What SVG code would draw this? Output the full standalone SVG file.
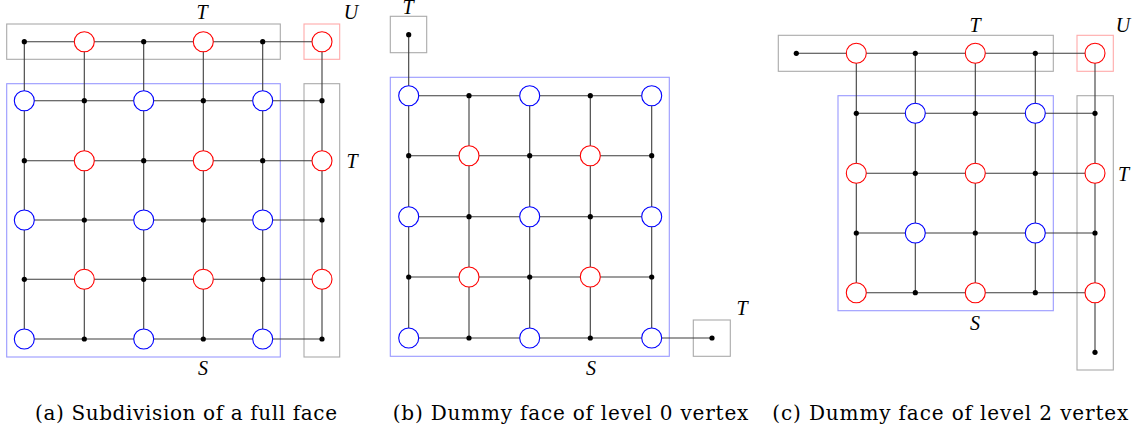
<svg xmlns="http://www.w3.org/2000/svg" width="1139" height="432" viewBox="0 0 1139 432">
<style>
.e{stroke:#3c3c3c;stroke-width:1.1;fill:none}
.r{fill:#fff;stroke:#f00;stroke-width:1.1}
.b{fill:#fff;stroke:#00f;stroke-width:1.1}
.d{fill:#000}
.gb{fill:none;stroke:#aaa;stroke-width:1.1}
.sb{fill:none;stroke:#99f;stroke-width:1.1}
.ub{fill:none;stroke:#faa;stroke-width:1.1}
.lbl{font-family:"Liberation Serif",serif;font-style:italic;font-size:20px;fill:#000;text-anchor:middle}
.cap{font-family:"DejaVu Serif","Liberation Serif",serif;font-size:20px;fill:#000}
</style>
<defs>
<circle id="R" r="10" class="r"/>
<circle id="B" r="10" class="b"/>
<circle id="D" r="2.6" class="d"/>
</defs>

<!-- regions -->
<g id="a-T-box"><rect class="gb" x="6.7" y="24" width="273.6" height="35.3"/><text class="lbl" x="202" y="19">T</text></g>
<g id="a-U-box"><rect class="ub" x="304" y="24" width="35.7" height="35.3"/><text class="lbl" x="351" y="19">U</text></g>
<g id="a-S-box"><rect class="sb" x="6.7" y="83.7" width="273.6" height="273.3"/><text class="lbl" x="203" y="375">S</text></g>
<g id="a-T2-box"><rect class="gb" x="304" y="83.7" width="35.7" height="273.3"/><text class="lbl" x="352" y="168">T</text></g>

<g id="b-T-box"><rect class="gb" x="390.3" y="16.3" width="36.4" height="36.4"/><text class="lbl" x="408" y="14">T</text></g>
<g id="b-S-box"><rect class="sb" x="390.3" y="77.3" width="279" height="279"/><text class="lbl" x="591" y="375">S</text></g>
<g id="b-T2-box"><rect class="gb" x="693.3" y="320" width="37" height="36.3"/><text class="lbl" x="742" y="315">T</text></g>

<g id="c-T-box"><rect class="gb" x="778.3" y="35.3" width="275" height="36"/><text class="lbl" x="975" y="31.5">T</text></g>
<g id="c-U-box"><rect class="ub" x="1077" y="35.3" width="36.3" height="36"/><text class="lbl" x="1123" y="31.5">U</text></g>
<g id="c-S-box"><rect class="sb" x="838" y="95.7" width="215.3" height="215"/><text class="lbl" x="975" y="330">S</text></g>
<g id="c-T2-box"><rect class="gb" x="1077" y="95.7" width="36.3" height="274.3"/><text class="lbl" x="1123.5" y="180.5">T</text></g>

<!-- connectors -->
<g id="connectors" class="e">
<!-- (a) -->
<path d="M24.3 41.7H322M24.3 100.7H322M24.3 160.7H322M24.3 220H322M24.3 279.3H322M24.3 339H322"/>
<path d="M24.3 41.7V339M84.3 41.7V339M143.7 41.7V339M203.3 41.7V339M262.7 41.7V339M322 41.7V339"/>
<!-- (b) -->
<path d="M408.7 95.7H651.7M408.7 155.7H651.7M408.7 216.7H651.7M408.7 277H651.7M408.7 338H712"/>
<path d="M408.7 34.7V338M469 95.7V338M529.7 95.7V338M590.3 95.7V338M651.7 95.7V338"/>
<!-- (c) -->
<path d="M796.3 53.3H1095M856.3 113.3H1095M856.3 173.3H1095M856.3 233H1095M856.3 292.7H1095"/>
<path d="M856.3 53.3V292.7M915.3 53.3V292.7M975.3 53.3V292.7M1035.3 53.3V292.7M1095 53.3V352.3"/>
</g>

<!-- (a) nodes -->
<g id="a00"><use href="#D" x="24.3" y="41.7"/></g>
<g id="a01"><use href="#R" x="84.3" y="41.7"/></g>
<g id="a02"><use href="#D" x="143.7" y="41.7"/></g>
<g id="a03"><use href="#R" x="203.3" y="41.7"/></g>
<g id="a04"><use href="#D" x="262.7" y="41.7"/></g>
<g id="a05"><use href="#R" x="322" y="41.7"/></g>
<g id="a10"><use href="#B" x="24.3" y="100.7"/></g>
<g id="a11"><use href="#D" x="84.3" y="100.7"/></g>
<g id="a12"><use href="#B" x="143.7" y="100.7"/></g>
<g id="a13"><use href="#D" x="203.3" y="100.7"/></g>
<g id="a14"><use href="#B" x="262.7" y="100.7"/></g>
<g id="a15"><use href="#D" x="322" y="100.7"/></g>
<g id="a20"><use href="#D" x="24.3" y="160.7"/></g>
<g id="a21"><use href="#R" x="84.3" y="160.7"/></g>
<g id="a22"><use href="#D" x="143.7" y="160.7"/></g>
<g id="a23"><use href="#R" x="203.3" y="160.7"/></g>
<g id="a24"><use href="#D" x="262.7" y="160.7"/></g>
<g id="a25"><use href="#R" x="322" y="160.7"/></g>
<g id="a30"><use href="#B" x="24.3" y="220"/></g>
<g id="a31"><use href="#D" x="84.3" y="220"/></g>
<g id="a32"><use href="#B" x="143.7" y="220"/></g>
<g id="a33"><use href="#D" x="203.3" y="220"/></g>
<g id="a34"><use href="#B" x="262.7" y="220"/></g>
<g id="a35"><use href="#D" x="322" y="220"/></g>
<g id="a40"><use href="#D" x="24.3" y="279.3"/></g>
<g id="a41"><use href="#R" x="84.3" y="279.3"/></g>
<g id="a42"><use href="#D" x="143.7" y="279.3"/></g>
<g id="a43"><use href="#R" x="203.3" y="279.3"/></g>
<g id="a44"><use href="#D" x="262.7" y="279.3"/></g>
<g id="a45"><use href="#R" x="322" y="279.3"/></g>
<g id="a50"><use href="#B" x="24.3" y="339"/></g>
<g id="a51"><use href="#D" x="84.3" y="339"/></g>
<g id="a52"><use href="#B" x="143.7" y="339"/></g>
<g id="a53"><use href="#D" x="203.3" y="339"/></g>
<g id="a54"><use href="#B" x="262.7" y="339"/></g>
<g id="a55"><use href="#D" x="322" y="339"/></g>

<!-- (b) nodes -->
<g id="bT1"><use href="#D" x="408.7" y="34.7"/></g>
<g id="bT2"><use href="#D" x="712" y="338"/></g>
<g id="b00"><use href="#B" x="408.7" y="95.7"/></g>
<g id="b01"><use href="#D" x="469" y="95.7"/></g>
<g id="b02"><use href="#B" x="529.7" y="95.7"/></g>
<g id="b03"><use href="#D" x="590.3" y="95.7"/></g>
<g id="b04"><use href="#B" x="651.7" y="95.7"/></g>
<g id="b10"><use href="#D" x="408.7" y="155.7"/></g>
<g id="b11"><use href="#R" x="469" y="155.7"/></g>
<g id="b12"><use href="#D" x="529.7" y="155.7"/></g>
<g id="b13"><use href="#R" x="590.3" y="155.7"/></g>
<g id="b14"><use href="#D" x="651.7" y="155.7"/></g>
<g id="b20"><use href="#B" x="408.7" y="216.7"/></g>
<g id="b21"><use href="#D" x="469" y="216.7"/></g>
<g id="b22"><use href="#B" x="529.7" y="216.7"/></g>
<g id="b23"><use href="#D" x="590.3" y="216.7"/></g>
<g id="b24"><use href="#B" x="651.7" y="216.7"/></g>
<g id="b30"><use href="#D" x="408.7" y="277"/></g>
<g id="b31"><use href="#R" x="469" y="277"/></g>
<g id="b32"><use href="#D" x="529.7" y="277"/></g>
<g id="b33"><use href="#R" x="590.3" y="277"/></g>
<g id="b34"><use href="#D" x="651.7" y="277"/></g>
<g id="b40"><use href="#B" x="408.7" y="338"/></g>
<g id="b41"><use href="#D" x="469" y="338"/></g>
<g id="b42"><use href="#B" x="529.7" y="338"/></g>
<g id="b43"><use href="#D" x="590.3" y="338"/></g>
<g id="b44"><use href="#B" x="651.7" y="338"/></g>

<!-- (c) nodes -->
<g id="c00"><use href="#D" x="796.3" y="53.3"/></g>
<g id="c01"><use href="#R" x="856.3" y="53.3"/></g>
<g id="c02"><use href="#D" x="915.3" y="53.3"/></g>
<g id="c03"><use href="#R" x="975.3" y="53.3"/></g>
<g id="c04"><use href="#D" x="1035.3" y="53.3"/></g>
<g id="c05"><use href="#R" x="1095" y="53.3"/></g>
<g id="c11"><use href="#D" x="856.3" y="113.3"/></g>
<g id="c12"><use href="#B" x="915.3" y="113.3"/></g>
<g id="c13"><use href="#D" x="975.3" y="113.3"/></g>
<g id="c14"><use href="#B" x="1035.3" y="113.3"/></g>
<g id="c15"><use href="#D" x="1095" y="113.3"/></g>
<g id="c21"><use href="#R" x="856.3" y="173.3"/></g>
<g id="c22"><use href="#D" x="915.3" y="173.3"/></g>
<g id="c23"><use href="#R" x="975.3" y="173.3"/></g>
<g id="c24"><use href="#D" x="1035.3" y="173.3"/></g>
<g id="c25"><use href="#R" x="1095" y="173.3"/></g>
<g id="c31"><use href="#D" x="856.3" y="233"/></g>
<g id="c32"><use href="#B" x="915.3" y="233"/></g>
<g id="c33"><use href="#D" x="975.3" y="233"/></g>
<g id="c34"><use href="#B" x="1035.3" y="233"/></g>
<g id="c35"><use href="#D" x="1095" y="233"/></g>
<g id="c41"><use href="#R" x="856.3" y="292.7"/></g>
<g id="c42"><use href="#D" x="915.3" y="292.7"/></g>
<g id="c43"><use href="#R" x="975.3" y="292.7"/></g>
<g id="c44"><use href="#D" x="1035.3" y="292.7"/></g>
<g id="c45"><use href="#R" x="1095" y="292.7"/></g>
<g id="c55"><use href="#D" x="1095" y="352.3"/></g>

<!-- captions -->
<text class="cap" x="35" y="420" textLength="302">(a) Subdivision of a full face</text>
<text class="cap" x="392.7" y="420" textLength="355.6">(b) Dummy face of level 0 vertex</text>
<text class="cap" x="772.3" y="420" textLength="356">(c) Dummy face of level 2 vertex</text>
</svg>
